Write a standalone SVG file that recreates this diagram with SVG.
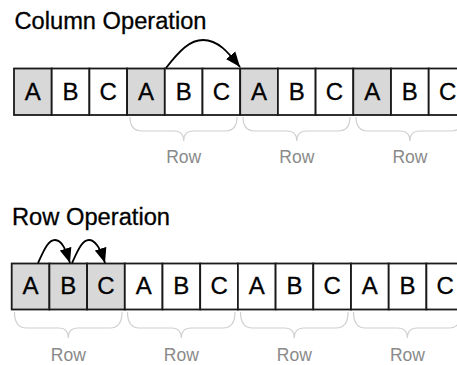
<svg xmlns="http://www.w3.org/2000/svg" width="457" height="365" viewBox="0 0 457 365">
  <style>
    .title { font-family: "Liberation Sans", Arial, Helvetica, sans-serif; font-size: 23.5px; fill: #000; stroke: #000; stroke-width: 0.3; }
    .cell rect { fill: #ffffff; stroke: #1a1a1a; stroke-width: 1.8; }
    .cell.shaded rect { fill: #d8d8d8; }
    .cell text { font-family: "Liberation Sans", Arial, Helvetica, sans-serif; font-size: 24px; fill: #000; stroke: #000; stroke-width: 0.3; text-anchor: middle; }
    .brace { fill: none; stroke: #d0d0d0; stroke-width: 1.2; }
    .rowlabel { font-family: "Liberation Sans", Arial, Helvetica, sans-serif; font-size: 17.5px; fill: #8a8a8a; text-anchor: middle; }
    .arc { fill: none; stroke: #000; stroke-width: 1.8; }
  </style>
  <defs>
    <marker id="head" markerUnits="userSpaceOnUse" markerWidth="18" markerHeight="16" refX="15" refY="6" orient="auto" viewBox="0 0 18 12">
      <path d="M0,0 L15,6 L0,12 Z" fill="#000"/>
    </marker>
  </defs>

  <rect width="457" height="365" fill="#ffffff"/>

  <!-- Column layout: one value per column across the strip -->
  <text id="title-column" class="title" x="14.5" y="28.5" textLength="192" lengthAdjust="spacingAndGlyphs">Column Operation</text>

  <g id="strip-column">
    <g id="c0" class="cell shaded"><rect x="14" y="68.5" width="37.7" height="46.5"/><text x="32.85" y="100">A</text></g>
    <g id="c1" class="cell"><rect x="51.7" y="68.5" width="37.7" height="46.5"/><text x="70.55" y="100">B</text></g>
    <g id="c2" class="cell"><rect x="89.4" y="68.5" width="37.7" height="46.5"/><text x="108.25" y="100">C</text></g>
    <g id="c3" class="cell shaded"><rect x="127.1" y="68.5" width="37.7" height="46.5"/><text x="145.95" y="100">A</text></g>
    <g id="c4" class="cell"><rect x="164.8" y="68.5" width="37.7" height="46.5"/><text x="183.65" y="100">B</text></g>
    <g id="c5" class="cell"><rect x="202.5" y="68.5" width="37.7" height="46.5"/><text x="221.35" y="100">C</text></g>
    <g id="c6" class="cell shaded"><rect x="240.2" y="68.5" width="37.7" height="46.5"/><text x="259.05" y="100">A</text></g>
    <g id="c7" class="cell"><rect x="277.9" y="68.5" width="37.7" height="46.5"/><text x="296.75" y="100">B</text></g>
    <g id="c8" class="cell"><rect x="315.6" y="68.5" width="37.7" height="46.5"/><text x="334.45" y="100">C</text></g>
    <g id="c9" class="cell shaded"><rect x="353.3" y="68.5" width="37.7" height="46.5"/><text x="372.15" y="100">A</text></g>
    <g id="c10" class="cell"><rect x="391" y="68.5" width="37.7" height="46.5"/><text x="409.85" y="100">B</text></g>
    <g id="c11" class="cell"><rect x="428.7" y="68.5" width="37.7" height="46.5"/><text x="447.55" y="100">C</text></g>
  </g>

  <g id="rows-column">
    <path class="brace" d="M130,117 Q130,131 142,131 L174,131 Q183.7,131 183.7,141 Q183.7,131 193.4,131 L225,131 Q237,131 237,117"/>
    <text class="rowlabel" x="183.7" y="163">Row</text>
    <path class="brace" d="M243,117 Q243,131 255,131 L287,131 Q296.8,131 296.8,141 Q296.8,131 306.6,131 L338,131 Q350,131 350,117"/>
    <text class="rowlabel" x="296.8" y="163">Row</text>
    <path class="brace" d="M356,117 Q356,131 368,131 L400,131 Q409.9,131 409.9,141 Q409.9,131 419.8,131 L451,131 Q463,131 463,117"/>
    <text class="rowlabel" x="409.9" y="163">Row</text>
  </g>

  <!-- Row layout: a whole record stored contiguously -->
  <text id="title-row" class="title" x="12" y="225" textLength="158" lengthAdjust="spacingAndGlyphs">Row Operation</text>

  <g id="strip-row">
    <g id="r0" class="cell shaded"><rect x="11.7" y="263.5" width="37.7" height="46"/><text x="30.55" y="294">A</text></g>
    <g id="r1" class="cell shaded"><rect x="49.4" y="263.5" width="37.7" height="46"/><text x="68.25" y="294">B</text></g>
    <g id="r2" class="cell shaded"><rect x="87.1" y="263.5" width="37.7" height="46"/><text x="105.95" y="294">C</text></g>
    <g id="r3" class="cell"><rect x="124.8" y="263.5" width="37.7" height="46"/><text x="143.65" y="294">A</text></g>
    <g id="r4" class="cell"><rect x="162.5" y="263.5" width="37.7" height="46"/><text x="181.35" y="294">B</text></g>
    <g id="r5" class="cell"><rect x="200.2" y="263.5" width="37.7" height="46"/><text x="219.05" y="294">C</text></g>
    <g id="r6" class="cell"><rect x="237.9" y="263.5" width="37.7" height="46"/><text x="256.75" y="294">A</text></g>
    <g id="r7" class="cell"><rect x="275.6" y="263.5" width="37.7" height="46"/><text x="294.45" y="294">B</text></g>
    <g id="r8" class="cell"><rect x="313.3" y="263.5" width="37.7" height="46"/><text x="332.15" y="294">C</text></g>
    <g id="r9" class="cell"><rect x="351" y="263.5" width="37.7" height="46"/><text x="369.85" y="294">A</text></g>
    <g id="r10" class="cell"><rect x="388.7" y="263.5" width="37.7" height="46"/><text x="407.55" y="294">B</text></g>
    <g id="r11" class="cell"><rect x="426.4" y="263.5" width="37.7" height="46"/><text x="445.25" y="294">C</text></g>
  </g>

  <g id="rows-row">
    <path class="brace" d="M14.5,312 Q14.5,328 26.5,328 L58.5,328 Q68.3,328 68.3,338 Q68.3,328 78.1,328 L110,328 Q122,328 122,312"/>
    <text class="rowlabel" x="68.3" y="361">Row</text>
    <path class="brace" d="M127.5,312 Q127.5,328 139.5,328 L171.5,328 Q181.3,328 181.3,338 Q181.3,328 191.1,328 L223,328 Q235,328 235,312"/>
    <text class="rowlabel" x="181.3" y="361">Row</text>
    <path class="brace" d="M240.5,312 Q240.5,328 252.5,328 L284.5,328 Q294.3,328 294.3,338 Q294.3,328 304.1,328 L336,328 Q348,328 348,312"/>
    <text class="rowlabel" x="294.3" y="361">Row</text>
    <path class="brace" d="M353.5,312 Q353.5,328 365.5,328 L397.5,328 Q407.4,328 407.4,338 Q407.4,328 417.2,328 L449,328 Q461,328 461,312"/>
    <text class="rowlabel" x="407.4" y="361">Row</text>
  </g>

  <g id="connectors">
    <path class="arc" marker-end="url(#head)" d="M166,68 C180,50 190,40 203,40 C218,40 228,52 240,67"/>
    <path class="arc" marker-end="url(#head)" d="M38,263 C44,250 48,240 55,240 C62,240 66,250 70,263"/>
    <path class="arc" marker-end="url(#head)" d="M72,263 C78,250 82,240 89,240 C96,240 101,250 105,263"/>
  </g>
</svg>
